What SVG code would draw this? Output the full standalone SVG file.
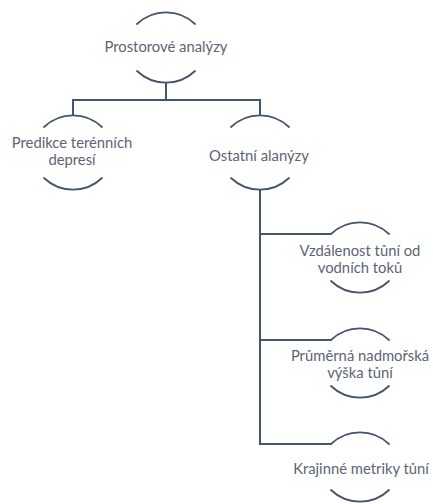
<svg xmlns="http://www.w3.org/2000/svg" width="433" height="504" viewBox="0 0 433 504">
  <style>
    .arc { fill: none; stroke: #44546a; stroke-width: 1.8; stroke-linecap: round; }
    .link { fill: none; stroke: #44546a; stroke-width: 2; }
    .label { font-family: Lato, "Liberation Sans", sans-serif; font-size: 14.8px; fill: #5b6574; text-anchor: middle; }
  </style>
  <rect width="433" height="504" fill="#ffffff"/>

  <!-- connectors -->
  <g id="connectors">
    <path class="link" d="M166 83 V100"/>
    <path class="link" d="M73 115 V100 H260 V115"/>
    <path class="link" d="M260 190 V444 H331"/>
    <path class="link" d="M260 234 H331"/>
    <path class="link" d="M260 340 H331"/>
  </g>

  <!-- root -->
  <g id="node-prostorove">
    <path class="arc" d="M137 24 A42 42 0 0 1 195 24"/>
    <path class="arc" d="M137 71 A42 42 0 0 0 195 71"/>
    <text class="label" x="166" y="52">Prostorové analýzy</text>
  </g>

  <g id="node-predikce">
    <path class="arc" d="M44 127 A42 42 0 0 1 102 127"/>
    <path class="arc" d="M44 178 A42 42 0 0 0 102 178"/>
    <text class="label" x="72" y="148">Predikce terénních</text>
    <text class="label" x="72" y="165">depresí</text>
  </g>

  <g id="node-ostatni">
    <path class="arc" d="M231 127 A42 42 0 0 1 289 127"/>
    <path class="arc" d="M231 178 A42 42 0 0 0 289 178"/>
    <text class="label" x="259" y="161">Ostatní alanýzy</text>
  </g>

  <g id="node-vzdalenost">
    <path class="arc" d="M331 234 A42 42 0 0 1 389 234"/>
    <path class="arc" d="M331 281 A42 42 0 0 0 389 281"/>
    <text class="label" x="360" y="256">Vzdálenost tůní od</text>
    <text class="label" x="360" y="273">vodních toků</text>
  </g>

  <g id="node-vyska">
    <path class="arc" d="M331 340 A42 42 0 0 1 389 340"/>
    <path class="arc" d="M331 386 A42 42 0 0 0 389 386"/>
    <text class="label" x="360" y="361">Průměrná nadmořská</text>
    <text class="label" x="360" y="378">výška tůní</text>
  </g>

  <g id="node-metriky">
    <path class="arc" d="M331 444 A42 42 0 0 1 389 444"/>
    <path class="arc" d="M331 490 A42 42 0 0 0 389 490"/>
    <text class="label" x="361" y="474">Krajinné metriky tůní</text>
  </g>
</svg>
